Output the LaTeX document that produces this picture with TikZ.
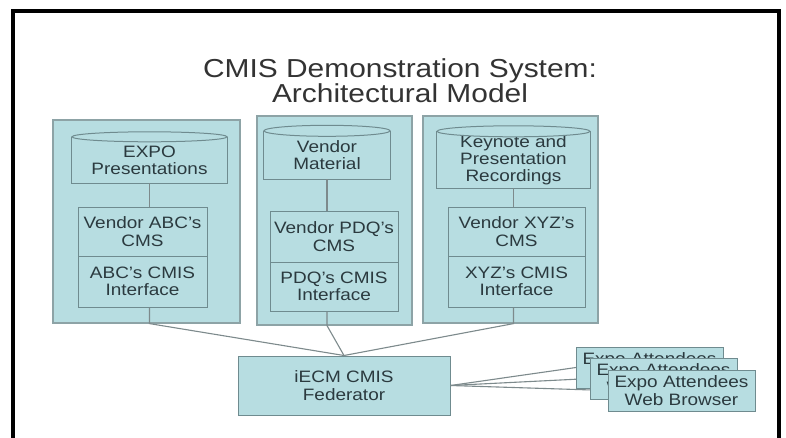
\documentclass[tikz,border=0pt]{standalone}
\usepackage{fontspec}
\setmainfont{Liberation Sans}[FakeStretch=1.15]
\definecolor{boxfill}{HTML}{B7DDE1}
\definecolor{boxline}{HTML}{6F8B8F}
\definecolor{panelline}{HTML}{8DA3A6}
\definecolor{txt}{HTML}{2B3A3F}
\definecolor{conn}{HTML}{7D8A8C}
\definecolor{titletxt}{HTML}{333333}
\begin{document}
\begin{tikzpicture}[x=1pt,y=-1pt,
  panel/.style={draw=panelline, fill=boxfill, line width=1.2pt, inner sep=0pt},
  box/.style={draw=boxline, fill=boxfill, line width=1pt, inner sep=0pt, text=txt, align=center,
    font=\fontsize{16.5}{17.5}\selectfont},
  cylbody/.style={fill=boxfill, inner sep=0pt, text=txt, align=center,
    font=\fontsize{16.5}{17}\selectfont},
  cyledge/.style={draw=boxline, line width=1pt},
  conn/.style={draw=conn, line width=1.1pt},
  frame/.style={draw=black, line width=4pt}]
\useasboundingbox (0,0) rectangle (786,437);
\fill[white] (0,0) rectangle (786,437);
\draw[frame] (12.5,445) -- (12.5,10.5) -- (778.5,10.5) -- (778.5,445);

\node[text=titletxt, align=center, font=\fontsize{26}{25}\selectfont] (title) at (400,80.5)
  {CMIS Demonstration System:\\Architectural Model};

% panels
\node[panel, minimum width=187pt, minimum height=203pt] (p1) at (146.5,221.5) {};
\node[panel, minimum width=155pt, minimum height=209pt] (p2) at (334.5,220.5) {};
\node[panel, minimum width=175pt, minimum height=207pt] (p3) at (510.5,219.5) {};

% cylinders
\node[cylbody, minimum width=155pt, minimum height=46pt] (c1) at (149.5,160) {EXPO\\Presentations};
\draw[cyledge] (c1.north west) -- (c1.south west) -- (c1.south east) -- (c1.north east);
\filldraw[cyledge, fill=boxfill] (c1.north) ellipse [x radius=77.5, y radius=5];

\node[cylbody, minimum width=126pt, minimum height=48pt] (c2) at (327,155) {Vendor\\Material};
\draw[cyledge] (c2.north west) -- (c2.south west) -- (c2.south east) -- (c2.north east);
\filldraw[cyledge, fill=boxfill] (c2.north) ellipse [x radius=63, y radius=5.5];

\node[cylbody, minimum width=153pt, minimum height=56.5pt] (c3) at (513.5,159.75) {Keynote and\\Presentation\\Recordings};
\draw[cyledge] (c3.north west) -- (c3.south west) -- (c3.south east) -- (c3.north east);
\filldraw[cyledge, fill=boxfill] (c3.north) ellipse [x radius=76.5, y radius=5.5];

% CMS boxes
\node[box, minimum width=129pt, minimum height=49pt] (v1) at (142.5,231.5) {Vendor ABC's\\CMS};
\node[box, minimum width=129pt, minimum height=51pt] (i1) at (142.5,281.5) {ABC's CMIS\\Interface};
\node[box, minimum width=128pt, minimum height=51pt] (v2) at (334,236.5) {Vendor PDQ's\\CMS};
\node[box, minimum width=128pt, minimum height=49pt] (i2) at (334,286.5) {PDQ's CMIS\\Interface};
\node[box, minimum width=137pt, minimum height=49pt] (v3) at (516.5,231.5) {Vendor XYZ's\\CMS};
\node[box, minimum width=137pt, minimum height=51pt] (i3) at (516.5,281.5) {XYZ's CMIS\\Interface};

% federator
\node[box, minimum width=212pt, minimum height=59pt] (fed) at (344,385.5) {iECM CMIS\\Federator};

% in-panel connectors
\draw[conn] (c1.south) -- (c1.south |- v1.north);
\draw[conn] (c2.south) -- (c2.south |- v2.north);
\draw[conn] (c3.south) -- (c3.south |- v3.north);

% panels to federator
\draw[conn] (c1.south |- i1.south) -- (c1.south |- p1.south) -- (fed.north);
\draw[conn] (c2.south |- i2.south) -- (c2.south |- p2.south) -- (fed.north);
\draw[conn] (c3.south |- i3.south) -- (c3.south |- p3.south) -- (fed.north);

% browsers
\coordinate (bb) at (649.5,367.5);
\coordinate (bm) at (663.5,378.5);
\coordinate (bf) at (681.5,390.5);
\draw[conn] (fed.east) -- ([xshift=-73.5pt]bb);
\draw[conn] (fed.east) -- ([xshift=-73.5pt]bm);
\draw[conn] (fed.east) -- ([xshift=-73.5pt]bf);
\node[box, minimum width=147pt, minimum height=41pt] (w1) at (bb) {Expo Attendees\\Web Browser};
\node[box, minimum width=147pt, minimum height=41pt] (w2) at (bm) {Expo Attendees\\Web Browser};
\node[box, minimum width=147pt, minimum height=41pt] (w3) at (bf) {Expo Attendees\\Web Browser};
\end{tikzpicture}
\end{document}
